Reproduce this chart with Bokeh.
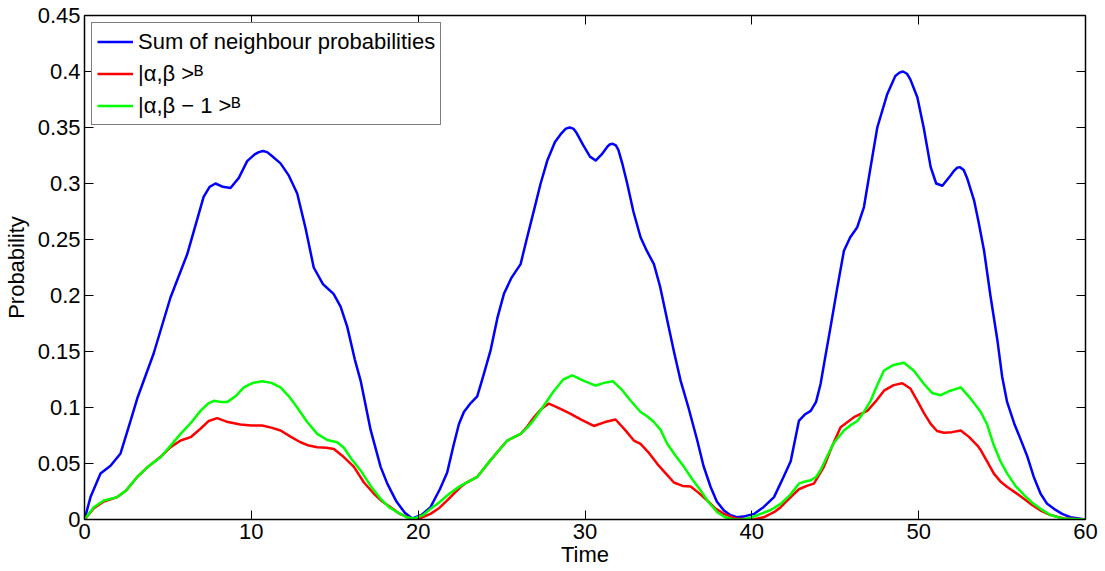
from bokeh.plotting import figure
from bokeh.models import (Range1d, FixedTicker, LinearAxis, NumeralTickFormatter,
                          Legend, LegendItem, CustomLabelingPolicy)
from bokeh.embed import file_html
from bokeh.resources import INLINE

# ---- data ----
blue_t = [0, 0.36, 0.96, 1.56, 2.16, 2.76, 3.16, 4.14, 5.15, 6.16, 7.14, 7.5, 7.85, 8.3, 8.75, 9.25,
          9.75, 10.2, 10.45, 10.7, 10.95, 11.2, 11.75, 12.25, 12.75, 13.25, 13.74, 14.3, 14.93, 15.35,
          15.75, 16.2, 16.55, 17.15, 17.75, 18.15, 18.7, 19.2, 19.65, 20.2, 20.74, 21.3, 21.74, 22.1,
          22.44, 22.74, 23.15, 23.54, 23.9, 24.34, 24.75, 25.14, 25.6, 26.14, 26.5, 26.94, 27.34,
          27.74, 28.2, 28.6, 28.85, 29.08, 29.3, 29.5, 29.9, 30.3, 30.64, 31.0, 31.35, 31.5, 31.67,
          31.85, 32.0, 32.25, 32.53, 32.9, 33.33, 33.7, 34.13, 34.5, 34.93, 35.33, 35.73, 36.2,
          36.73, 37.1, 37.53, 37.9, 38.33, 38.7, 39.1, 39.6, 40.13, 40.7, 41.33, 41.9, 42.33, 42.82,
          43.2, 43.53, 43.85, 44.12, 44.4, 44.72, 45.1, 45.52, 45.9, 46.32, 46.72, 47.1, 47.52,
          48.12, 48.6, 48.85, 49.06, 49.3, 49.5, 49.92, 50.3, 50.72, 51.05, 51.42, 51.9, 52.1, 52.3,
          52.48, 52.7, 52.9, 53.32, 53.6, 53.92, 54.3, 54.72, 55.0, 55.3, 55.72, 56.1, 56.52, 56.9,
          57.31, 57.7, 58.11, 58.6, 59.1, 60]
blue_p = [0, 0.020, 0.041, 0.048, 0.059, 0.088, 0.108, 0.148, 0.198, 0.237, 0.288, 0.297, 0.300,
          0.297, 0.296, 0.305, 0.320, 0.326, 0.328, 0.329, 0.328, 0.325, 0.318, 0.307, 0.291,
          0.260, 0.225, 0.210, 0.2015, 0.190, 0.172, 0.143, 0.124, 0.080, 0.047, 0.032, 0.016,
          0.006, 0.001, 0.004, 0.011, 0.027, 0.042, 0.065, 0.085, 0.096, 0.104, 0.110, 0.128,
          0.151, 0.180, 0.2015, 0.216, 0.228, 0.250, 0.276, 0.300, 0.3205, 0.337, 0.345, 0.349,
          0.350, 0.349, 0.345, 0.334, 0.324, 0.3205, 0.326, 0.333, 0.335, 0.3354, 0.334, 0.330,
          0.317, 0.300, 0.275, 0.252, 0.240, 0.228, 0.208, 0.178, 0.150, 0.124, 0.100, 0.0705,
          0.048, 0.029, 0.016, 0.008, 0.004, 0.002, 0.003, 0.005, 0.011, 0.020, 0.038, 0.052,
          0.088, 0.094, 0.097, 0.105, 0.121, 0.145, 0.172, 0.205, 0.240, 0.252, 0.261, 0.279,
          0.313, 0.350, 0.380, 0.396, 0.399, 0.400, 0.398, 0.393, 0.377, 0.350, 0.3146, 0.300,
          0.298, 0.307, 0.311, 0.314, 0.3146, 0.312, 0.305, 0.285, 0.265, 0.240, 0.200, 0.160,
          0.128, 0.105, 0.086, 0.072, 0.056, 0.038, 0.023, 0.014, 0.0095, 0.005, 0.002, 0]

red_t = [0, 0.56, 1.16, 1.96, 2.5, 3.16, 3.8, 4.56, 5.16, 5.76, 6.36, 6.95, 7.45, 7.95, 8.6, 9.35,
         10.0, 10.65, 11.2, 11.75, 12.35, 12.95, 13.45, 13.95, 14.5, 14.95, 15.45, 16.15, 16.75,
         17.35, 17.85, 18.35, 18.9, 19.55, 20.1, 20.74, 21.24, 21.74, 22.14, 22.54, 22.9, 23.54,
         24.34, 25.34, 26.14, 26.54, 26.94, 27.4, 27.84, 28.5, 29.14, 29.8, 30.53, 31.2, 31.83,
         32.4, 32.93, 33.33, 33.8, 34.33, 34.85, 35.33, 35.85, 36.33, 36.8, 37.33, 37.8, 38.33,
         39.0, 40.1, 40.7, 41.33, 41.73, 42.13, 42.82, 43.3, 43.72, 44.32, 44.8, 45.32, 46.12,
         46.92, 47.4, 47.92, 48.5, 49.02, 49.5, 49.92, 50.32, 50.72, 51.1, 51.52, 52.0, 52.52,
         53.0, 53.52, 53.72, 54.1, 54.51, 54.9, 55.31, 55.8, 56.31, 56.8, 57.31, 57.9, 58.7, 60]
red_p = [0, 0.010, 0.016, 0.020, 0.026, 0.038, 0.047, 0.056, 0.0646, 0.0705, 0.0735, 0.081, 0.088,
         0.0905, 0.087, 0.0848, 0.084, 0.084, 0.082, 0.0795, 0.074, 0.069, 0.066, 0.0646, 0.064,
         0.063, 0.057, 0.047, 0.033, 0.023, 0.016, 0.011, 0.005, 0.001, 0.001, 0.005, 0.010,
         0.017, 0.023, 0.029, 0.033, 0.038, 0.053, 0.0705, 0.0765, 0.083, 0.0913, 0.099, 0.1035,
         0.099, 0.0943, 0.089, 0.0835, 0.087, 0.0893, 0.080, 0.0705, 0.0676, 0.060, 0.0497,
         0.041, 0.033, 0.030, 0.0295, 0.024, 0.017, 0.010, 0.005, 0.001, 0.0, 0.002, 0.0065,
         0.011, 0.017, 0.027, 0.030, 0.032, 0.047, 0.065, 0.0824, 0.0913, 0.097, 0.105, 0.115,
         0.120, 0.1217, 0.117, 0.106, 0.095, 0.0854, 0.079, 0.0774, 0.078, 0.0795, 0.074, 0.066,
         0.062, 0.052, 0.041, 0.034, 0.029, 0.024, 0.0185, 0.013, 0.008, 0.004, 0.001, 0]

green_t = [0, 0.56, 1.16, 1.96, 2.5, 3.16, 3.8, 4.56, 5.16, 5.76, 6.36, 6.95, 7.45, 7.75, 8.2,
           8.55, 9.05, 9.55, 10.1, 10.65, 11.2, 11.75, 12.25, 12.75, 13.35, 13.95, 14.55, 15.15,
           15.55, 16.0, 16.55, 17.15, 17.75, 18.25, 18.75, 19.3, 19.8, 20.3, 20.74, 21.24, 21.74,
           22.14, 22.54, 22.9, 23.54, 24.34, 25.34, 26.14, 26.54, 26.94, 27.54, 28.1, 28.7, 29.24,
           29.9, 30.64, 31.15, 31.67, 32.2, 32.74, 33.33, 33.74, 34.13, 34.53, 34.93, 35.43, 35.93,
           36.43, 36.93, 37.43, 37.93, 38.4, 38.9, 39.5, 40.0, 40.53, 41.13, 41.73, 42.3, 42.82,
           43.2, 43.53, 43.85, 44.12, 44.5, 44.9, 45.52, 45.9, 46.32, 46.72, 47.12, 47.52, 47.92,
           48.5, 49.12, 49.7, 50.32, 50.8, 51.32, 51.9, 52.52, 53.0, 53.52, 53.72, 54.1, 54.51,
           54.9, 55.31, 55.8, 56.31, 56.8, 57.31, 57.9, 58.6, 60]
green_p = [0, 0.011, 0.017, 0.020, 0.026, 0.038, 0.047, 0.0556, 0.066, 0.0765, 0.086, 0.097, 0.104,
           0.106, 0.105, 0.1048, 0.110, 0.118, 0.122, 0.1235, 0.122, 0.118, 0.110, 0.100, 0.087,
           0.0765, 0.071, 0.069, 0.064, 0.054, 0.0438, 0.030, 0.0185, 0.011, 0.0065, 0.002, 0.001,
           0.004, 0.0095, 0.015, 0.0214, 0.026, 0.030, 0.033, 0.038, 0.053, 0.0705, 0.0765, 0.082,
           0.089, 0.1018, 0.114, 0.125, 0.1286, 0.124, 0.1196, 0.122, 0.1235, 0.116, 0.106, 0.096,
           0.092, 0.087, 0.080, 0.0676, 0.057, 0.047, 0.036, 0.026, 0.015, 0.0065, 0.002, 0.0, 0.0,
           0.002, 0.005, 0.0085, 0.014, 0.022, 0.032, 0.034, 0.035, 0.038, 0.044, 0.056, 0.068,
           0.0795, 0.084, 0.088, 0.096, 0.106, 0.120, 0.133, 0.138, 0.140, 0.133, 0.121, 0.113,
           0.111, 0.115, 0.118, 0.110, 0.100, 0.096, 0.085, 0.066, 0.052, 0.041, 0.030, 0.022,
           0.015, 0.0095, 0.004, 0.001, 0]

series_labels = ["Sum of neighbour probabilities", "|\u03b1,\u03b2 >\u1d2e", "|\u03b1,\u03b2 \u2212 1 >\u1d2e"]
x_ticks = [0, 10, 20, 30, 40, 50, 60]
y_ticks = [0, 0.05, 0.1, 0.15, 0.2, 0.25, 0.3, 0.35, 0.4, 0.45]

FONT = "Liberation Sans"
FS = "22px"

p = figure(width=1105, height=571, output_backend="svg", toolbar_location=None,
           x_range=Range1d(0, 60), y_range=Range1d(0, 0.45),
           min_border_left=84, min_border_right=20, min_border_top=15, min_border_bottom=52,
           x_axis_label="Time", y_axis_label="Probability")
p.grid.visible = False
p.outline_line_color = "black"
p.outline_line_width = 1
p.background_fill_color = "white"
p.border_fill_color = "white"

hide_all = CustomLabelingPolicy(code="""
const all = [...indices]
for (const i of all) indices.unset(i)
return indices
""")

def style_axis(ax, ticks, show_labels=True):
    ax.ticker = FixedTicker(ticks=ticks)
    ax.minor_tick_line_color = None
    ax.major_tick_in = 9
    ax.major_tick_out = 0
    ax.axis_line_color = "black"
    ax.axis_line_width = 1.5
    ax.major_tick_line_color = "black"
    ax.major_label_text_font = FONT
    ax.major_label_text_color = "black"
    if show_labels:
        ax.major_label_text_font_size = FS
    else:
        ax.major_label_text_font_size = "0px"
        ax.major_label_policy = hide_all
        ax.major_label_standoff = 0

for ax in p.xaxis:
    style_axis(ax, x_ticks)
    ax.major_label_standoff = 4
    ax.axis_label_standoff = 0
    ax.axis_label_text_font = FONT
    ax.axis_label_text_font_size = FS
    ax.axis_label_text_font_style = "normal"
    ax.axis_label_text_color = "black"
for ax in p.yaxis:
    style_axis(ax, y_ticks)
    ax.formatter = NumeralTickFormatter(format="0.[00]")
    ax.major_label_standoff = 4
    ax.axis_label_standoff = 6
    ax.axis_label_text_font = FONT
    ax.axis_label_text_font_size = FS
    ax.axis_label_text_font_style = "normal"
    ax.axis_label_text_color = "black"

top_ax = LinearAxis()
style_axis(top_ax, x_ticks, show_labels=False)
p.add_layout(top_ax, "above")
right_ax = LinearAxis()
style_axis(right_ax, y_ticks, show_labels=False)
p.add_layout(right_ax, "right")

r_blue = p.line(blue_t, blue_p, line_color="#0000ff", line_width=2.5, line_join="round")
r_red = p.line(red_t, red_p, line_color="#ff0000", line_width=2.5, line_join="round")
r_green = p.line(green_t, green_p, line_color="#00ff00", line_width=2.5, line_join="round")

legend = Legend(items=[LegendItem(label=series_labels[0], renderers=[r_blue]),
                       LegendItem(label=series_labels[1], renderers=[r_red]),
                       LegendItem(label=series_labels[2], renderers=[r_green])],
                location="top_left")
legend.margin = 7
legend.padding = 5
legend.spacing = 5
legend.label_height = 27
legend.glyph_height = 27
legend.glyph_width = 36
legend.label_standoff = 5
legend.label_text_font = FONT
legend.label_text_font_size = FS
legend.label_text_color = "black"
legend.border_line_color = "black"
legend.border_line_width = 1
legend.background_fill_alpha = 1
p.add_layout(legend, "center")

open("out.html", "w").write(file_html(p, INLINE))
